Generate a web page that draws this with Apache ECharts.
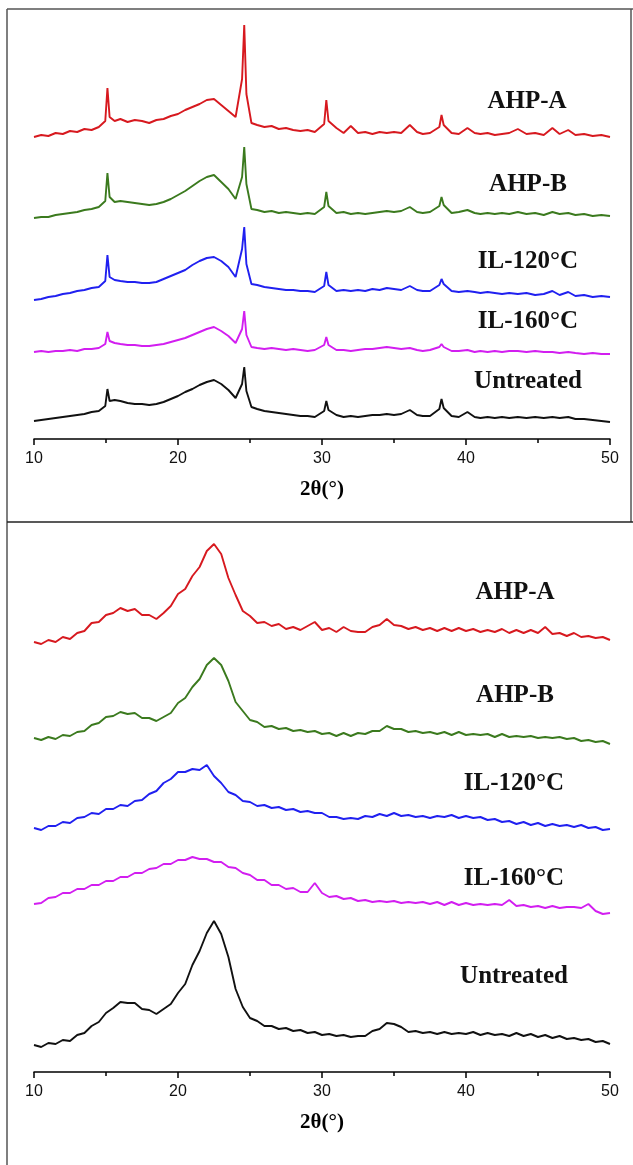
<!DOCTYPE html>
<html>
<head>
<meta charset="utf-8">
<script src="https://cdn.jsdelivr.net/npm/echarts@6/dist/echarts.min.js"></script>
<style>html,body{margin:0;padding:0;background:#fff;}#c{width:633px;height:1165px;}</style>
</head>
<body>
<div id="c"></div>
<script>
// ---- Top panel (sharp-peak patterns), 2θ in degrees, intensity in a.u. (curves stacked with offsets)
var topTheta = [10,10.5,11,11.5,12,12.5,13,13.5,14,14.5,14.95,15.1,15.25,15.6,16,16.5,17,17.5,18,18.5,19,19.5,20,20.5,21,21.5,22,22.5,23,23.5,24,24.45,24.6,24.75,25.1,25.5,26,26.5,27,27.5,28,28.5,29,29.5,30.15,30.3,30.45,31,31.5,32,32.5,33,33.5,34,34.5,35,35.5,36.1,36.6,37,37.5,38.15,38.3,38.45,39,39.5,40.1,40.6,41,41.5,42,42.5,43,43.6,44.2,44.8,45.4,46,46.5,47.1,47.6,48.2,48.8,49.4,50];
var topAHPA = [302,304,303,306,305,308,307,310,309,312,318,351,322,318,320,317,319,318,316,319,320,323,325,329,332,335,339,340,334,328,322,360,414,345,316,314,312,313,310,311,309,308,309,307,315,339,318,311,306,313,306,307,305,307,306,307,306,314,307,305,306,312,324,314,306,305,311,306,305,306,304,305,306,310,305,306,304,311,305,309,304,305,303,304,302];
var topAHPB = [221,222,222,224,225,226,227,229,230,232,238,266,242,237,238,237,236,235,234,235,237,240,244,248,253,258,262,264,257,250,240,262,292,255,230,229,227,228,226,227,226,225,226,225,232,247,233,226,227,225,226,225,226,227,228,227,228,232,227,226,227,233,242,234,226,227,229,226,225,226,225,226,225,227,225,226,224,227,225,226,224,225,223,224,223];
var topIL120 = [139,140,142,143,145,146,148,149,151,152,158,184,162,159,158,157,157,156,156,157,160,163,166,169,174,178,181,182,178,172,162,190,212,175,155,154,152,151,150,149,149,148,148,147,153,167,154,148,149,148,149,148,150,149,151,150,149,153,149,148,148,154,160,155,148,147,148,147,146,147,146,145,146,145,146,144,145,148,144,147,143,144,142,143,142];
var topIL160 = [87,88,87,88,88,89,88,90,90,91,95,107,98,96,95,94,94,93,93,94,95,97,99,101,104,107,110,112,108,103,96,110,128,104,92,91,90,91,90,89,90,89,88,89,94,102,94,89,89,88,89,90,90,91,92,91,90,91,89,88,89,92,95,92,88,88,89,87,88,87,88,87,88,88,87,88,87,87,86,87,86,85,86,85,85];
var topUntreated = [18,19,20,21,22,23,24,25,27,28,33,50,38,39,38,36,35,35,34,35,37,40,43,47,50,54,57,59,55,49,41,55,72,48,32,30,28,27,26,25,24,23,23,22,28,38,29,24,22,23,22,23,24,24,25,24,25,29,24,23,23,30,40,31,23,22,27,22,21,22,21,22,21,22,21,22,21,22,21,22,20,20,19,18,17];

// ---- Bottom panel (amorphous/broad patterns)
var botTheta = [10,10.5,11,11.5,12,12.5,13,13.5,14,14.5,15,15.5,16,16.5,17,17.5,18,18.5,19,19.5,20,20.5,21,21.5,22,22.5,23,23.5,24,24.5,25,25.5,26,26.5,27,27.5,28,28.5,29,29.5,30,30.5,31,31.5,32,32.5,33,33.5,34,34.5,35,35.5,36,36.5,37,37.5,38,38.5,39,39.5,40,40.5,41,41.5,42,42.5,43,43.5,44,44.5,45,45.5,46,46.5,47,47.5,48,48.5,49,49.5,50];
var botAHPA = [430,428,432,430,435,433,439,441,449,450,457,459,464,461,463,457,457,453,459,466,478,483,496,505,521,528,518,494,477,461,456,449,450,446,448,443,445,442,446,450,442,444,440,445,441,440,440,445,447,453,447,446,443,445,442,444,441,444,441,444,441,443,440,442,440,443,439,442,439,442,439,445,438,439,436,439,435,436,434,435,432];
var botAHPB = [334,332,335,333,337,336,340,341,347,349,355,356,360,358,359,354,354,351,355,359,369,374,385,393,407,414,407,391,370,361,352,350,345,346,343,344,341,342,340,341,338,339,336,339,336,339,338,341,341,346,343,343,340,341,339,340,338,340,337,340,337,338,337,338,335,338,335,336,335,336,334,335,334,335,333,334,331,332,330,331,328];
var botIL120 = [244,242,246,246,250,249,254,255,259,258,263,263,267,266,271,272,278,281,289,293,300,300,303,302,307,296,289,280,277,271,270,266,267,264,265,262,263,260,261,259,259,255,255,253,254,253,256,255,258,256,259,256,257,255,256,254,256,255,257,254,256,254,255,252,253,250,251,248,250,247,249,246,248,246,247,245,247,244,245,242,243];
var botIL160 = [168,169,174,175,179,179,183,183,187,187,191,191,195,195,199,199,203,204,208,208,212,212,215,213,213,210,210,205,204,199,197,192,192,187,187,183,184,180,180,189,179,175,176,173,174,171,172,170,171,170,171,169,170,169,170,168,170,167,170,167,169,167,168,167,168,167,172,166,167,165,166,164,166,164,165,165,164,168,161,158,159];
var botUntreated = [27,25,29,28,32,31,37,39,46,50,59,64,70,69,69,63,62,58,63,68,79,88,107,121,139,151,138,115,83,65,54,51,46,46,43,44,41,42,39,40,37,38,36,37,35,36,36,41,43,49,48,45,40,41,39,40,38,40,38,39,38,40,37,39,37,38,36,39,36,38,35,37,34,36,33,34,32,33,30,31,28];

var sampleNames = ['AHP-A','AHP-B','IL-120°C','IL-160°C','Untreated'];
var xTicks = [10,20,30,40,50];
var axisTitle = '2θ(°)';

var colors = ['#d7191f','#3b7a1e','#2020f0','#d21ef0','#111111'];
var topSets = [topAHPA, topAHPB, topIL120, topIL160, topUntreated];
var botSets = [botAHPA, botAHPB, botIL120, botIL160, botUntreated];

function pairs(xs, ys){ return xs.map(function(x,i){ return [x, ys[i]]; }); }

var chart = echarts.init(document.getElementById('c'), null, {renderer:'canvas'});

function xAxisCfg(gi){
  return {
    gridIndex: gi, type:'value', min:10, max:50, interval:10,
    axisLine:{show:true, onZero:false, lineStyle:{color:'#000', width:1.5}},
    axisTick:{show:true, inside:false, length:6, lineStyle:{color:'#000', width:1.5}},
    minorTick:{show:true, splitNumber:2, length:4, lineStyle:{color:'#000', width:1.5}},
    splitLine:{show:false},
    axisLabel:{color:'#111', fontFamily:'Liberation Sans, Arial', fontSize:16, margin:12,
      formatter:function(v){ return xTicks.indexOf(v) >= 0 ? String(v) : ''; }},
    name: axisTitle, nameLocation:'middle', nameGap:40,
    nameTextStyle:{color:'#000', fontFamily:'Liberation Serif, Times New Roman', fontWeight:'bold', fontSize:21}
  };
}

var series = [];
topSets.forEach(function(s,i){
  series.push({type:'line', name:sampleNames[i]+' (top)', xAxisIndex:0, yAxisIndex:0, data:pairs(topTheta,s),
    showSymbol:false, symbol:'none', lineStyle:{color:colors[i], width:1.9}, animation:false});
});
botSets.forEach(function(s,i){
  series.push({type:'line', name:sampleNames[i]+' (bottom)', xAxisIndex:1, yAxisIndex:1, data:pairs(botTheta,s),
    showSymbol:false, symbol:'none', lineStyle:{color:colors[i], width:1.9}, animation:false});
});

var topLabelY = [102,185,262,322,382];
var botLabelY = [593,696,784,879,977];
var topLabelX = [527,528,528,528,528];
var botLabelX = [515,515,514,514,514];
var graphics = [];
sampleNames.forEach(function(n,i){
  graphics.push({type:'text', style:{text:n, x:0, y:0, textAlign:'center', textVerticalAlign:'middle',
     font:'bold 25px "Liberation Serif", "Times New Roman", serif', fill:'#111'}, position:[topLabelX[i], topLabelY[i]]});
  graphics.push({type:'text', style:{text:n, x:0, y:0, textAlign:'center', textVerticalAlign:'middle',
     font:'bold 25px "Liberation Serif", "Times New Roman", serif', fill:'#111'}, position:[botLabelX[i], botLabelY[i]]});
});
// frame lines
var frame = {stroke:'#555', lineWidth:1.5};
graphics.push({type:'line', shape:{x1:7, y1:9, x2:633, y2:9}, style:frame});
graphics.push({type:'line', shape:{x1:7, y1:9, x2:7, y2:1165}, style:frame});
graphics.push({type:'line', shape:{x1:631, y1:9, x2:631, y2:522}, style:frame});
graphics.push({type:'line', shape:{x1:7, y1:522, x2:633, y2:522}, style:{stroke:'#222', lineWidth:1.5}});

chart.setOption({
  animation:false,
  backgroundColor:'#fff',
  grid:[{left:34, width:576, top:19, height:420}, {left:34, width:576, top:540, height:532}],
  xAxis:[xAxisCfg(0), xAxisCfg(1)],
  yAxis:[
    {gridIndex:0, type:'value', min:0, max:420, show:false},
    {gridIndex:1, type:'value', min:0, max:532, show:false}
  ],
  series: series,
  graphic: graphics
});
</script>
</body>
</html>
